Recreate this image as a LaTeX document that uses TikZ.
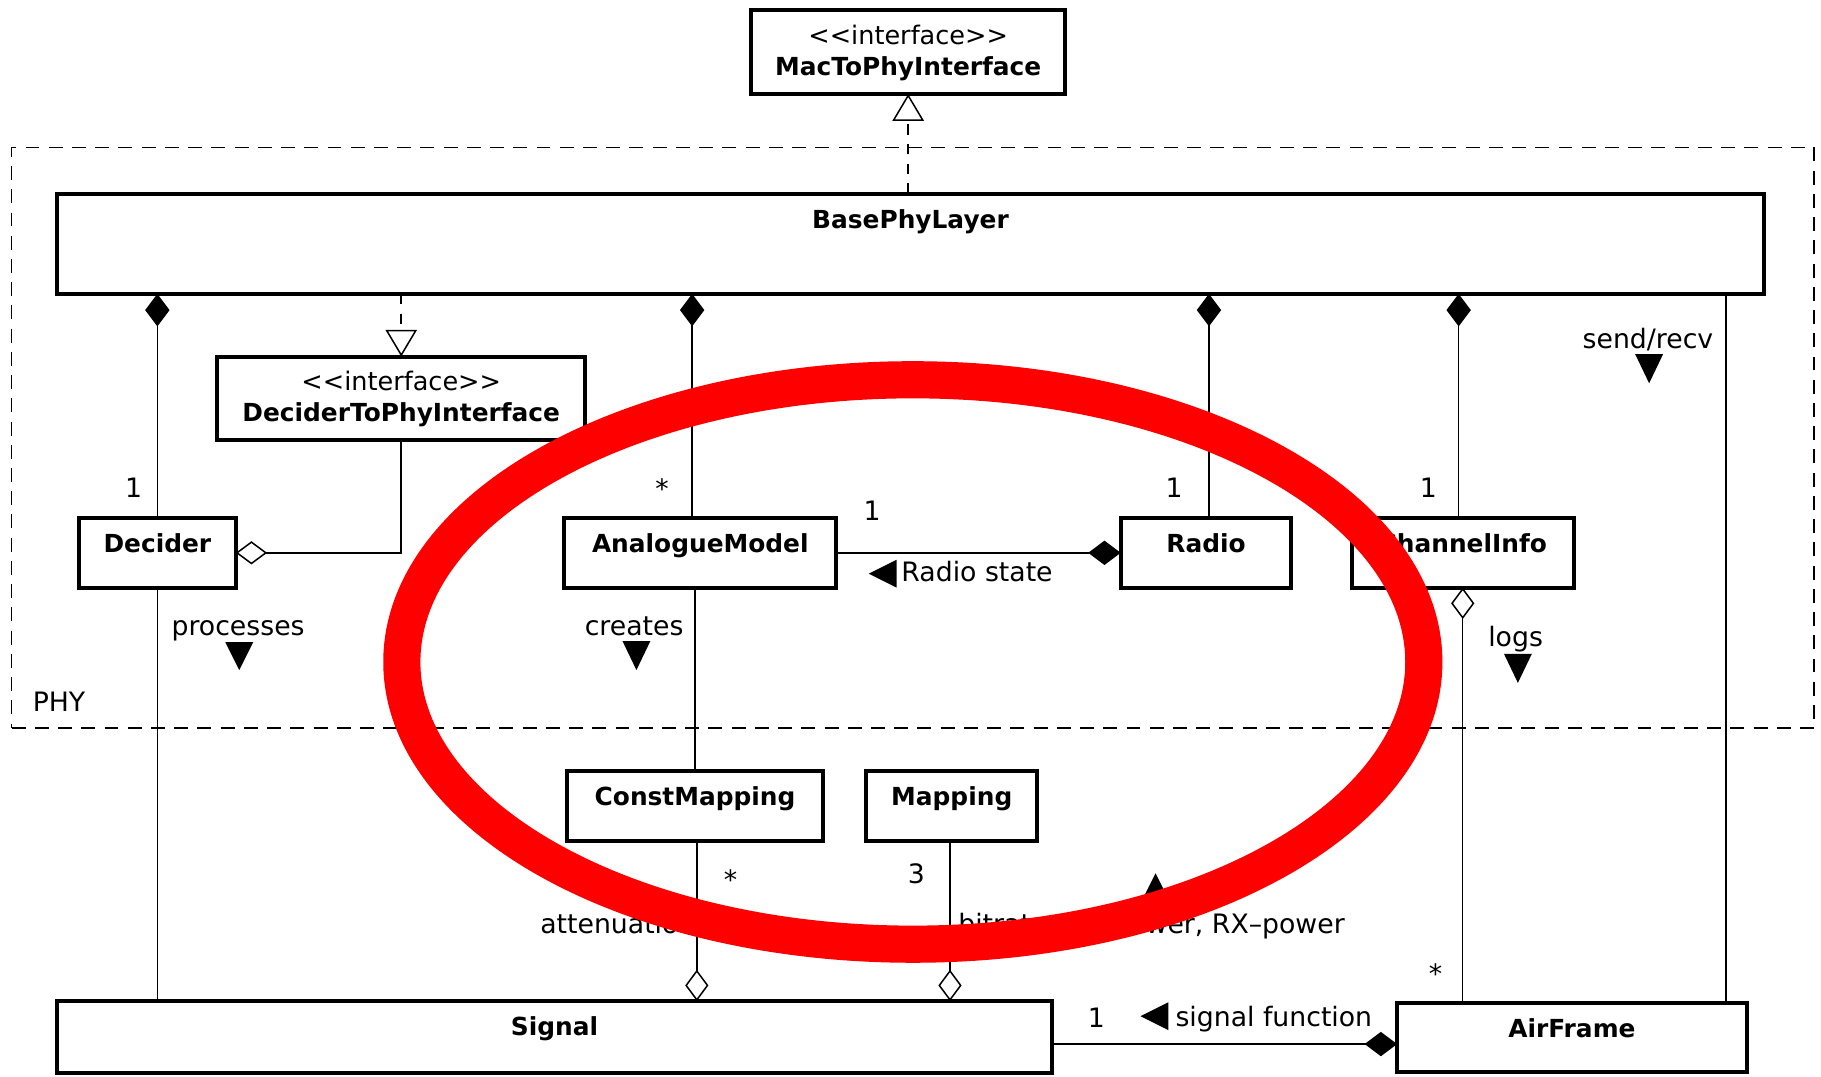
\documentclass[tikz,border=0pt]{standalone}
\usepackage{fontspec}
\setmainfont{DejaVu Sans}
\usetikzlibrary{arrows.meta}
\definecolor{markred}{RGB}{255,0,0}
\begin{document}
\begin{tikzpicture}[x=1pt,y=-1pt,
  cls/.style={draw, line width=3.4pt, fill=white, anchor=north west, inner sep=0pt,
    outer sep=0pt, text height=29.5pt, font=\fontsize{21.4}{24}\selectfont\bfseries},
  iface/.style={cls, text height=29pt, font=\fontsize{21.4}{27}\selectfont\bfseries},
  link/.style={line width=1.3pt},
  compose/.style={link, -{Diamond[length=28pt,width=21pt]}},
  aggregate/.style={link, -{Diamond[open,fill=white,length=27pt,width=20pt]}},
  realize/.style={link, dash pattern=on 9pt off 8pt,
    -{Triangle[open,fill=white,length=23pt,width=27pt]}},
  lbl/.style={font=\fontsize{23}{27}\selectfont, inner sep=0pt, anchor=base},
  pkg/.style={draw, line width=1.3pt, dash pattern=on 12pt off 8pt, anchor=north west,
    inner sep=0pt, outer sep=0pt}
]
\useasboundingbox (0,0) rectangle (1568,927);

% package frame
\node[pkg, minimum width=1552pt, minimum height=500pt] (phy) at (10,127) {};
\node[lbl, anchor=base west] (phyname) at (28,613) {PHY};

% classes
\node[iface, minimum width=270pt, text depth=43pt] (mac) at (647,9)
  {\begin{tabular}[t]{@{}c@{}}\mdseries\fontsize{22}{27}\selectfont <{}<interface>{}>\\MacToPhyInterface\end{tabular}};
\node[cls, minimum width=1470pt, text depth=56.5pt] (base) at (49,167) {BasePhyLayer};
\node[iface, minimum width=317pt, text depth=43pt] (dtp) at (187,307)
  {\begin{tabular}[t]{@{}c@{}}\mdseries\fontsize{22}{27}\selectfont <{}<interface>{}>\\DeciderToPhyInterface\end{tabular}};
\node[cls, minimum width=135pt, text depth=30.5pt] (decider) at (68,446) {Decider};
\node[cls, minimum width=234pt, text depth=30.5pt] (am) at (486,446) {AnalogueModel};
\node[cls, minimum width=147pt, text depth=30.5pt] (radio) at (965,446) {Radio};
\node[cls, minimum width=191pt, text depth=30.5pt] (ci) at (1164,446) {ChannelInfo};
\node[cls, minimum width=221pt, text depth=30.5pt] (cm) at (488,664) {ConstMapping};
\node[cls, minimum width=147pt, text depth=30.5pt] (map) at (746,664) {Mapping};
\node[cls, minimum width=857pt, text depth=32.5pt] (sig) at (49,862) {Signal};
\node[cls, minimum width=301pt, text depth=29.5pt] (af) at (1203,864) {AirFrame};

% realizations
\draw[realize] (base.north -| mac.south) -- (mac.south);
\draw[realize] (base.south -| dtp.north) -- (dtp.north);

% compositions owned by BasePhyLayer
\draw[compose] (decider.north) -- (decider.north |- base.south);
\draw[compose] ([xshift=-7pt]am.north) -- ([xshift=-7pt]am.north |- base.south);
\draw[compose] ([xshift=2.5pt]radio.north) -- ([xshift=2.5pt]radio.north |- base.south);
\draw[compose] ([xshift=-3.5pt]ci.north) -- ([xshift=-3.5pt]ci.north |- base.south);

% other associations
\draw[aggregate] (dtp.south) |- (decider.east);
\draw[compose] (am.east) -- (radio.west);
\draw[link] (cm.north) -- (cm.north |- am.south);
\draw[aggregate] ([xshift=1.5pt]cm.south) -- ([xshift=1.5pt]cm.south |- sig.north);
\draw[aggregate] ([xshift=-1.5pt]map.south) -- ([xshift=-1.5pt]map.south |- sig.north);
\draw[link] (decider.south) -- (decider.south |- sig.north);
\draw[aggregate] (ci.south |- af.north) -- (ci.south);
\draw[link] ([xshift=-18pt]af.north east) -- ([xshift=-18pt]af.north east |- base.south);
\draw[compose] ([yshift=-6pt]sig.east) -- ([yshift=-6pt]sig.east -| af.west);

% multiplicities
\node[lbl] (m1) at (115,428) {1};
\node[lbl] (m2) at (570,429) {*};
\node[lbl] (m3) at (1011,428) {1};
\node[lbl] (m4) at (1230,428) {1};
\node[lbl] (m5) at (751,448) {1};
\node[lbl] (m6) at (629,766) {*};
\node[lbl] (m7) at (789,761) {3};
\node[lbl] (m8) at (944,885) {1};
\node[lbl] (m9) at (1236,847) {*};

% association names with reading direction
\node[lbl, anchor=base west] (rs) at (776,501) {Radio state};
\fill (748,494) -- (772,482) -- (772,506) -- cycle;
\node[lbl] (proc) at (205,547) {processes};
\fill (194,553) -- (218,553) -- (206,577) -- cycle;
\node[lbl] (crea) at (546,547) {creates};
\fill (536,552) -- (560,552) -- (548,577) -- cycle;
\node[lbl] (logs) at (1305,557) {logs};
\fill (1295,563) -- (1319,563) -- (1307,588) -- cycle;
\node[lbl] (sr) at (1419,300) {send/recv};
\fill (1408,305) -- (1432,305) -- (1420,330) -- cycle;
\node[lbl, anchor=base west] (att) at (465,804) {attenuation};
\node[lbl, anchor=base west] (brp) at (825,804) {bitrate, TX--power, RX--power};
\fill (995,752) -- (983,776) -- (1007,776) -- cycle;
\node[lbl, anchor=base west] (sf) at (1012,884) {signal function};
\fill (982,875) -- (1006,863) -- (1006,887) -- cycle;

% highlight ring
\draw[markred, line width=32pt] (786,570) ellipse [x radius=440pt, y radius=243pt];
\end{tikzpicture}
\end{document}
